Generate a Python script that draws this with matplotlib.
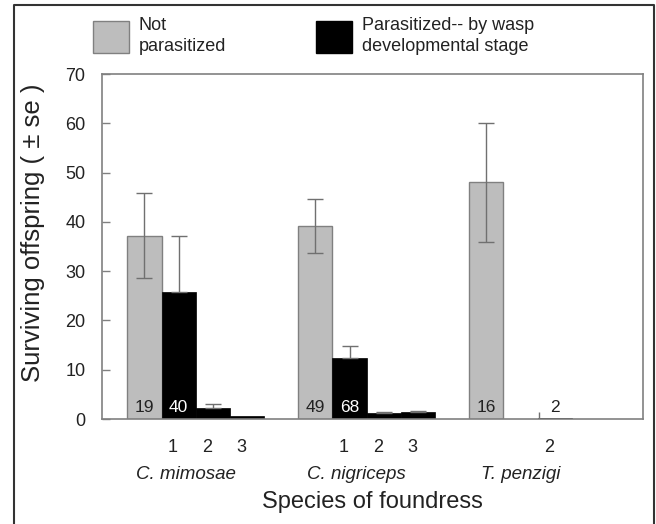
import numpy as np
import matplotlib
matplotlib.use("Agg")
import matplotlib.pyplot as plt
import matplotlib.transforms as mtransforms
from matplotlib.patches import Patch
from matplotlib.lines import Line2D

plt.rcParams['font.family'] = ['Liberation Sans', 'DejaVu Sans']

# values
species = ["C. mimosae", "C. nigriceps", "T. penzigi"]
stages = ["1", "2", "3"]

not_par_mean = [37.2, 39.1, 48.0]
not_par_se = [8.6, 5.5, 12.1]
not_par_n = [19, 49, 16]

# parasitized, by wasp developmental stage (nan = no data)
par_mean = [[25.8, 2.2, 0.6],
            [12.4, 1.2, 1.4],
            [np.nan, 0.3, np.nan]]
par_se = [[11.3, 0.8, 0.0],
          [2.4, 0.3, 0.2],
          [np.nan, 1.2, np.nan]]
par_n = [[40, None, None],
         [68, None, None],
         [None, 2, None]]

grey = '#bdbdbd'
edge = '#808080'
errc = '#707070'
width = 1.0

fig = plt.figure(figsize=(6.56, 5.24), dpi=100)
ax = fig.add_axes([102 / 656, 1 - 419 / 524, 541 / 656, 345 / 524])

tick_pos, tick_lab = [], []
for g, sp in enumerate(species):
    x0 = 5 * g
    ax.bar(x0, not_par_mean[g], width, color=grey, edgecolor=edge, linewidth=1, zorder=2)
    ax.errorbar(x0, not_par_mean[g], yerr=not_par_se[g], color=errc, lw=1,
                capsize=6, capthick=1, zorder=3)
    ax.text(x0, 2.4, str(not_par_n[g]), ha='center', va='center', fontsize=12.5,
            color='#222222', zorder=4)
    for k, st in enumerate(stages):
        m = par_mean[g][k]
        if np.isnan(m):
            continue
        xk = x0 + k + 1
        ax.bar(xk, m, width, color='black', edgecolor='black', linewidth=0.5, zorder=2)
        if par_se[g][k] > 0:
            # the tiny T. penzigi bar has its error tick at the bar's left edge
            xe = xk if m > 1 else xk - 0.45 * width
            ax.errorbar(xe, m, yerr=[[0], [par_se[g][k]]], color=errc, lw=1,
                        capsize=6 if m > 1 else 0, capthick=1, zorder=3)
        n = par_n[g][k]
        if n is not None:
            col = 'white' if m > 5 else '#222222'
            ax.text(xk, 2.4, str(n), ha='center', va='center', fontsize=12.5,
                    color=col, zorder=4)
        tick_pos.append(xk)
        tick_lab.append(st)
    # species name below the stage numbers
    off = 1.0 if g == 2 else 1.2
    ax.text(x0 + off, -0.162, sp, transform=ax.get_xaxis_transform(),
            ha='center', va='center', fontsize=13.5, style='italic', color='#222222')

ax.set_xlim(-1.24, 14.58)
ax.set_ylim(0, 70)
ax.set_yticks(range(0, 71, 10))
ax.set_xticks(tick_pos)
ax.set_xticklabels(tick_lab)
ax.tick_params(axis='x', length=0, pad=14.5, labelsize=13, labelcolor='#222222')
ax.tick_params(axis='y', direction='in', length=6, width=1, color=edge, pad=12,
               labelsize=13, labelcolor='#222222')
# stage numbers sit slightly left of their bars in the original
shift = mtransforms.ScaledTranslation(-6 / 100, 0, fig.dpi_scale_trans)
for lab in ax.get_xticklabels():
    lab.set_transform(lab.get_transform() + shift)
for s in ax.spines.values():
    s.set_color(edge)
    s.set_linewidth(1.2)

ax.set_ylabel("Surviving offspring ( \u00b1 se )", fontsize=18.5, color='#222222')
ax.yaxis.set_label_coords(-0.1275, 0.539)
ax.yaxis.label.set_verticalalignment('center')
ax.set_xlabel("Species of foundress", fontsize=17, color='#222222', labelpad=25)

handles = [Patch(facecolor=grey, edgecolor=edge), Patch(facecolor='black', edgecolor='black')]
labels = ["Not\nparasitized", "Parasitized-- by wasp\ndevelopmental stage"]
leg = fig.legend(handles, labels, loc='upper left', bbox_to_anchor=(89 / 656, 1 - 13 / 524),
                 ncol=2, frameon=False, fontsize=13, handlelength=2.0, handleheight=2.4,
                 handletextpad=0.55, columnspacing=5.0, borderpad=0.2, borderaxespad=0,
                 labelcolor='#222222')
for t in leg.get_texts():
    t.set_linespacing(1.35)

# outer frame (open at the bottom)
fx = [14 / 656, 14 / 656, 654 / 656, 654 / 656]
fy = [0, 1 - 5 / 524, 1 - 5 / 524, 0]
fig.add_artist(Line2D(fx, fy, color='#333333', lw=1.5, transform=fig.transFigure))

fig.savefig('out.png', dpi=100)
